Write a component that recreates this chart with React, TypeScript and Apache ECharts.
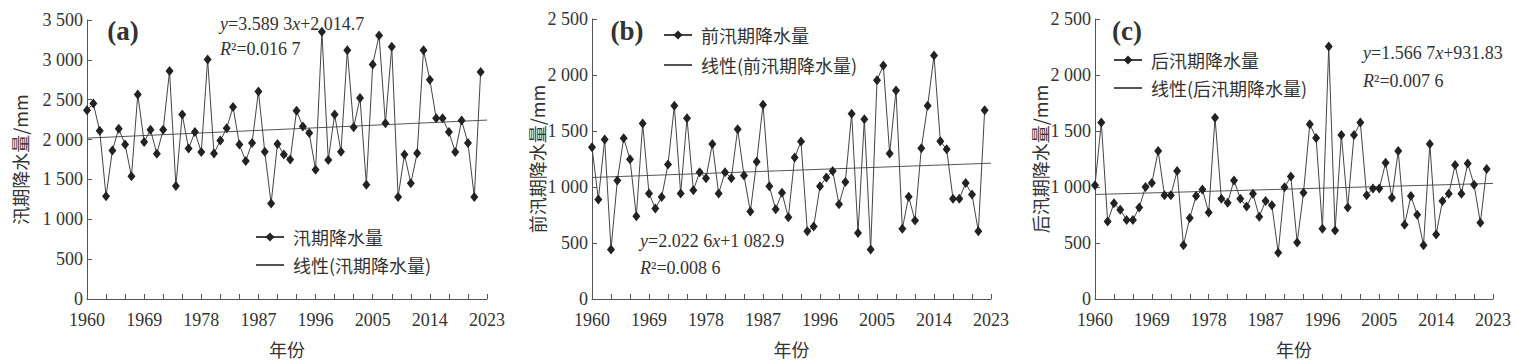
import React, { useEffect, useRef } from "react";
import * as echarts from "echarts";

// ---------- data ----------
const YEARS: string[] = Array.from({ length: 64 }, (_, i) => String(1960 + i)); // 1960..2023 axis categories

// 汛期降水量 (1960-2022), mm
const floodSeason: number[] = [
  2368, 2451, 2110, 1289, 1864, 2135, 1938, 1540, 2566, 1970,
  2122, 1823, 2122, 2861, 1416, 2315, 1888, 2094, 1843, 3005,
  1826, 1987, 2143, 2410, 1938, 1732, 1958, 2603, 1847, 1199,
  1946, 1814, 1749, 2360, 2163, 2081, 1621, 3354, 1745, 2315,
  1847, 3120, 2155, 2521, 1433, 2943, 3305, 2204, 3165, 1281,
  1814, 1453, 1827, 3120, 2750, 2266, 2266, 2094, 1843, 2238,
  1958, 1281, 2849,
];

// 前汛期降水量
const preFlood: number[] = [
  1356, 889, 1423, 443, 1059, 1435, 1248, 738, 1566, 942,
  808, 910, 1201, 1726, 942, 1613, 971, 1131, 1079, 1385,
  942, 1131, 1079, 1516, 1102, 781, 1225, 1735, 1006, 802,
  948, 729, 1263, 1406, 604, 647, 1006, 1085, 1143, 846,
  1044, 1654, 589, 1604, 443, 1954, 2085, 1298, 1861, 627,
  913, 700, 1347, 1726, 2173, 1409, 1336, 895, 895, 1035,
  933, 604, 1686,
];

// 后汛期降水量
const postFlood: number[] = [
  1015, 1575, 691, 854, 796, 706, 706, 817, 1000, 1035,
  1321, 927, 927, 1143, 481, 723, 919, 977, 773, 1619,
  895, 860, 1059, 895, 825, 939, 735, 875, 837, 414,
  997, 1094, 505, 948, 1560, 1438, 627, 2254, 612, 1464,
  817, 1464, 1575, 927, 986, 986, 1216, 904, 1321, 662,
  919, 752, 481, 1385, 575, 875, 939, 1196, 939, 1210,
  1021, 680, 1161,
];

// regression equations (x = 1, 2, ... counted from 1960)
const trendA = { slope: 3.5893, intercept: 2014.7 };
const trendB = { slope: 2.0226, intercept: 1082.9 };
const trendC = { slope: 1.5667, intercept: 931.83 };

const yMaxA = 3500;
const yMaxBC = 2500;
const yStep = 500;

const FONT = "'Liberation Serif', 'Noto Sans CJK SC', serif";
const CJK_FONT = "'Noto Sans CJK SC', 'Liberation Serif', sans-serif";
const TXT = "#333";
const AXIS = "#555";

function fmtThousands(v: number): string {
  if (v >= 1000) {
    const th = Math.floor(v / 1000);
    const rest = String(v % 1000).padStart(3, "0");
    return `${th} ${rest}`;
  }
  return String(v);
}

function trendLine(t: { slope: number; intercept: number }) {
  const last = YEARS.length - 1;
  return [
    [0, t.intercept + t.slope * 1],
    [last, t.intercept + t.slope * (last + 1)],
  ];
}

export default function App() {
  const ref = useRef<HTMLDivElement>(null);

  useEffect(() => {
    document.body.style.margin = "0";
    if (!ref.current) return;
    const chart = echarts.init(ref.current, undefined, { renderer: "svg" });

    const grids = [
      { left: 87, top: 20, width: 400, height: 284 },
      { left: 592, top: 19, width: 399, height: 286 },
      { left: 1095, top: 19, width: 398, height: 286 },
    ];
    const yNames = ["汛期降水量/mm", "前汛期降水量/mm", "后汛期降水量/mm"];
    const yNameGaps = [58, 46, 46];
    const yMaxes = [yMaxA, yMaxBC, yMaxBC];

    const xAxes = grids.map((_, gi) => ({
      type: "category",
      gridIndex: gi,
      data: YEARS,
      boundaryGap: false,
      axisLine: { show: true, lineStyle: { color: AXIS, width: 1 } },
      axisTick: { show: true, inside: true, interval: 2, length: 5, lineStyle: { color: AXIS } },
      axisLabel: { interval: 8, fontSize: 18, color: TXT, fontFamily: FONT, margin: 12 },
      splitLine: { show: false },
      name: "年份",
      nameLocation: "middle",
      nameGap: 41,
      nameMoveOverlap: false,
      nameTextStyle: { fontSize: 18, color: TXT, fontFamily: CJK_FONT },
    }));

    const yAxes = grids.map((_, gi) => ({
      type: "value",
      gridIndex: gi,
      min: 0,
      max: yMaxes[gi],
      interval: yStep,
      axisLine: { show: true, lineStyle: { color: AXIS, width: 1 } },
      axisTick: { show: true, inside: true, length: 5, lineStyle: { color: AXIS } },
      axisLabel: { fontSize: 18, color: TXT, fontFamily: FONT, margin: 4, formatter: fmtThousands },
      splitLine: { show: false },
      name: yNames[gi],
      nameLocation: "middle",
      nameRotate: 90,
      nameGap: yNameGaps[gi],
      nameMoveOverlap: false,
      nameTextStyle: { fontSize: 18, color: TXT, fontFamily: CJK_FONT },
    }));

    const dataSets = [floodSeason, preFlood, postFlood];
    const names = ["汛期降水量", "前汛期降水量", "后汛期降水量"];
    const trends = [trendA, trendB, trendC];

    const series: any[] = [];
    dataSets.forEach((d, gi) => {
      series.push({
        name: names[gi],
        type: "line",
        xAxisIndex: gi,
        yAxisIndex: gi,
        data: d,
        symbol: "diamond",
        symbolSize: [8, 10],
        showAllSymbol: true,
        itemStyle: { color: "#222" },
        lineStyle: { color: "#444", width: 1 },
        z: 3,
      });
      series.push({
        name: `线性(${names[gi]})`,
        type: "line",
        xAxisIndex: gi,
        yAxisIndex: gi,
        data: trendLine(trends[gi]),
        symbol: "none",
        itemStyle: { color: "rgba(0,0,0,0)" },
        lineStyle: { color: "#555", width: 1 },
        z: 2,
      });
    });

    const legendPos = [
      { left: 255, top: 228, gap: 10 },
      { left: 663, top: 26, gap: 12 },
      { left: 1113, top: 51, gap: 10 },
    ];
    const legends = legendPos.map((p, gi) => ({
      data: [
        { name: names[gi] },
        { name: `线性(${names[gi]})`, itemStyle: { color: "rgba(0,0,0,0)", opacity: 0 } },
      ],
      left: p.left,
      top: p.top,
      orient: "vertical",
      padding: 0,
      itemWidth: 28,
      itemHeight: 11,
      itemGap: p.gap,
      selectedMode: false,
      textStyle: { fontSize: 18, color: TXT, fontFamily: CJK_FONT, padding: [0, 0, 0, 4] },
    }));

    const eqStyle = (text: string) => ({
      text,
      fontSize: 18,
      fontFamily: FONT,
      fill: TXT,
      verticalAlign: "middle",
      rich: {
        i: { fontStyle: "italic", fontSize: 18, fontFamily: FONT, fill: TXT },
      },
    });

    const panelLabel = (text: string, x: number) => ({
      type: "text",
      x,
      y: 31,
      style: {
        text,
        fontSize: 27,
        fontWeight: "bold",
        fontFamily: FONT,
        fill: TXT,
        textAlign: "center",
        verticalAlign: "middle",
      },
    });

    const graphic = [
      panelLabel("(a)", 123),
      panelLabel("(b)", 627),
      panelLabel("(c)", 1127),
      { type: "text", x: 220, y: 24, style: eqStyle("{i|y}=3.589 3{i|x}+2 014.7") },
      { type: "text", x: 220, y: 49, style: eqStyle("{i|R}²=0.016 7") },
      { type: "text", x: 640, y: 241, style: eqStyle("{i|y}=2.022 6{i|x}+1 082.9") },
      { type: "text", x: 640, y: 268, style: eqStyle("{i|R}²=0.008 6") },
      { type: "text", x: 1363, y: 53, style: eqStyle("{i|y}=1.566 7{i|x}+931.83") },
      { type: "text", x: 1363, y: 81, style: eqStyle("{i|R}²=0.007 6") },
    ];

    chart.setOption({
      animation: false,
      backgroundColor: "#fff",
      grid: grids,
      xAxis: xAxes,
      yAxis: yAxes,
      legend: legends,
      series,
      graphic,
    });

    return () => chart.dispose();
  }, []);

  return <div ref={ref} style={{ width: 1515, height: 363 }} />;
}
